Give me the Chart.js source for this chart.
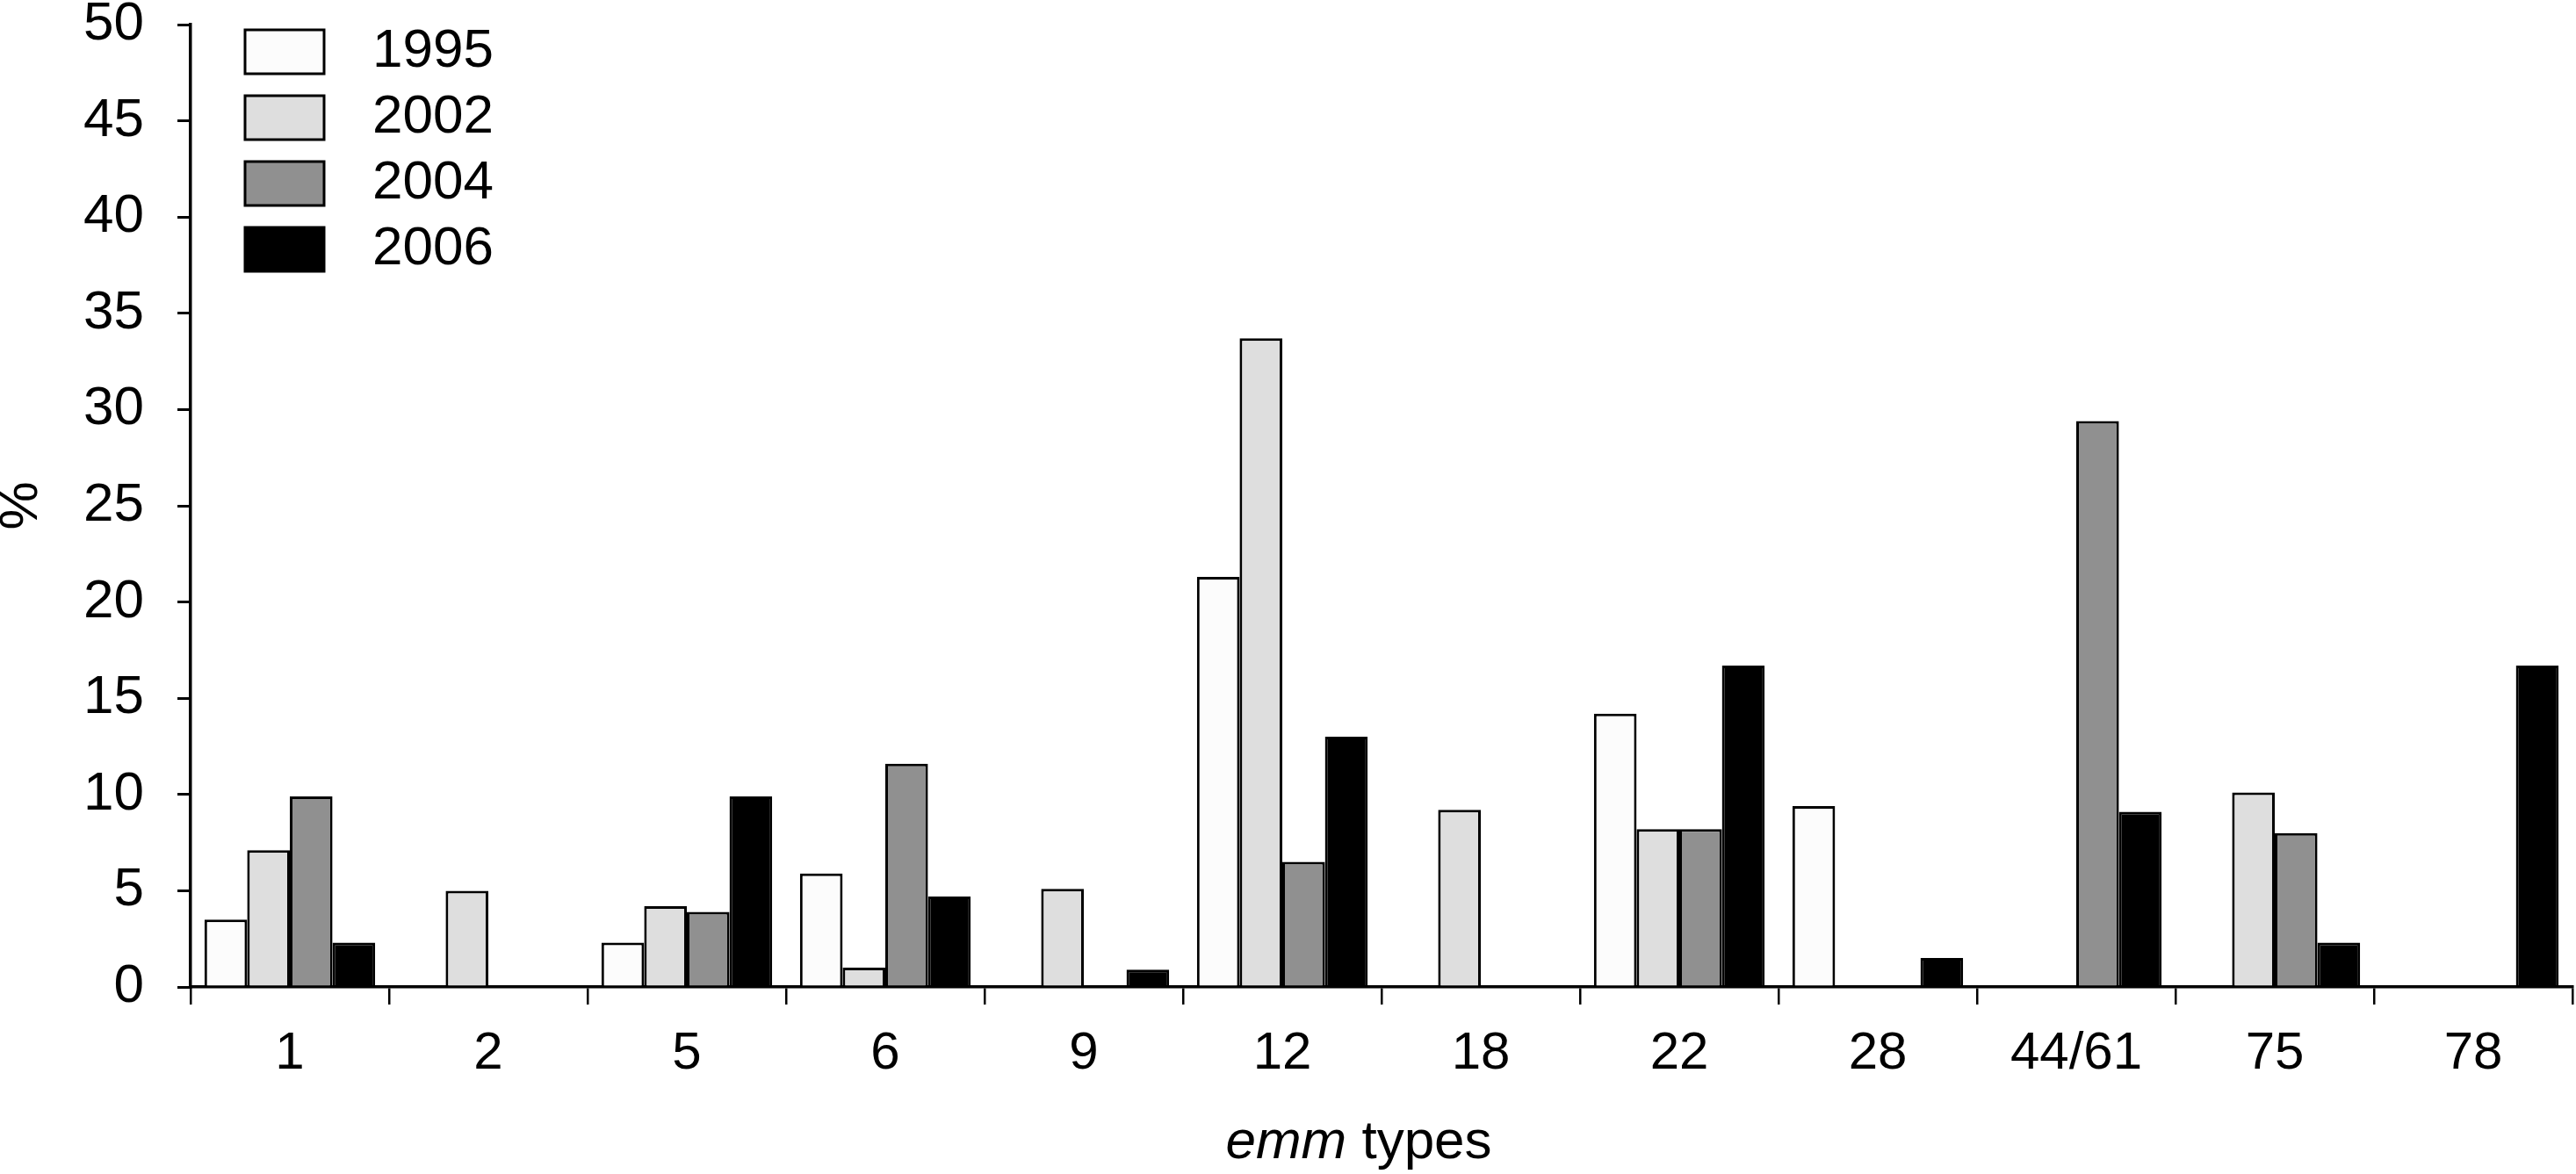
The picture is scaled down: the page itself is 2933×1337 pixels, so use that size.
<!DOCTYPE html>
<html>
<head>
<meta charset="utf-8">
<script src="https://cdn.jsdelivr.net/npm/chart.js@4/dist/chart.umd.min.js"></script>
<style>
  html, body { margin: 0; padding: 0; background: #fff; }
  .wrap { width: 2933px; height: 1337px; position: relative; }
</style>
</head>
<body>
<div class="wrap"><canvas id="emmChart"></canvas></div>
<script>
// emm types on the x axis
const categories = ["1", "2", "5", "6", "9", "12", "18", "22", "28", "44/61", "75", "78"];
const years = ["1995", "2002", "2004", "2006"];

// % of isolates per year
const pct1995 = [3.5, 0, 2.3, 5.9, 0, 21.3, 0, 14.2, 9.4, 0, 0, 0];
const pct2002 = [7.1, 5.0, 4.2, 1.0, 5.1, 33.7, 9.2, 8.2, 0, 0, 10.1, 0];
const pct2004 = [9.9, 0, 3.9, 11.6, 0, 6.5, 0, 8.2, 0, 29.4, 8.0, 0];
const pct2006 = [2.3, 0, 9.9, 4.7, 0.9, 13.0, 0, 16.7, 1.5, 9.1, 2.3, 16.7];

const fills = ["#fcfcfc", "#dedede", "#909090", "#000000"];

Chart.defaults.font.family = "'Liberation Sans', Arial, sans-serif";
Chart.defaults.color = "#000";

// x axis title has "emm" in italics, so draw it by hand
const xTitle = {
  id: "xTitle",
  afterDraw(chart) {
    const ctx = chart.ctx;
    const area = chart.chartArea;
    const italic = "italic 62px 'Liberation Sans', Arial, sans-serif";
    const normal = "62px 'Liberation Sans', Arial, sans-serif";
    ctx.save();
    ctx.fillStyle = "#000";
    ctx.textBaseline = "alphabetic";
    ctx.font = italic;
    const w1 = ctx.measureText("emm").width;
    ctx.font = normal;
    const w2 = ctx.measureText(" types").width;
    const x0 = (area.left + area.right) / 2 - 26 - (w1 + w2) / 2;
    const y = chart.scales.x.top + 195;
    ctx.font = italic;
    ctx.fillText("emm", x0, y);
    ctx.font = normal;
    ctx.fillText(" types", x0 + w1, y);
    ctx.restore();
  }
};

// move the legend into the top-left corner of the plot
// (labels are right aligned against lg.right to get the wider gap)
const legendSpot = {
  id: "legendSpot",
  afterLayout(chart) {
    const lg = chart.legend;
    const area = chart.chartArea;
    lg.left = area.left + 49;
    lg.top = area.top - 13;
    lg.right = area.left + 345;
    lg.bottom = lg.top + 500;
  }
};

const ctx = document.getElementById("emmChart");
const emmChart = new Chart(ctx, {
  type: "bar",
  data: {
    labels: categories,
    datasets: [pct1995, pct2002, pct2004, pct2006].map((d, i) => ({
      label: years[i],
      data: d,
      backgroundColor: fills[i],
      borderColor: "#000",
      borderWidth: 3,
      categoryPercentage: 0.86,
      barPercentage: 1.0
    }))
  },
  options: {
    responsive: true,
    maintainAspectRatio: false,
    animation: false,
    layout: {
      autoPadding: false,
      padding: { top: 28, right: 4, bottom: 0, left: 0 }
    },
    plugins: {
      tooltip: { enabled: false },
      legend: {
        position: "chartArea",
        align: "start",
        labels: {
          boxWidth: 90,
          boxHeight: 50,
          padding: 13,
          color: "#000",
          textAlign: "right",
          font: { size: 62 }
        }
      }
    },
    scales: {
      x: {
        afterFit(scale) {
          scale.height = 213;
          scale.paddingLeft = 0;
          scale.paddingRight = 0;
        },
        grid: {
          offset: true,
          drawOnChartArea: false,
          drawTicks: true,
          tickLength: 20,
          color: "#000",
          lineWidth: 2.5
        },
        border: { display: true, color: "#000", width: 3.5 },
        ticks: { font: { size: 60 }, padding: 20, color: "#000", maxRotation: 0 }
      },
      y: {
        min: 0,
        max: 50,
        afterFit(scale) {
          scale.width = 217;
          scale.paddingTop = 0;
          scale.paddingBottom = 0;
        },
        grid: {
          drawOnChartArea: false,
          drawTicks: true,
          tickLength: 15,
          color: "#000",
          lineWidth: 3
        },
        border: { display: true, color: "#000", width: 3.5 },
        ticks: { stepSize: 5, font: { size: 62 }, padding: 38, color: "#000" },
        title: {
          display: true,
          text: "%",
          color: "#000",
          font: { size: 62, lineHeight: 0.8 },
          padding: 0
        }
      }
    }
  },
  plugins: [legendSpot, xTitle]
});
</script>
</body>
</html>
